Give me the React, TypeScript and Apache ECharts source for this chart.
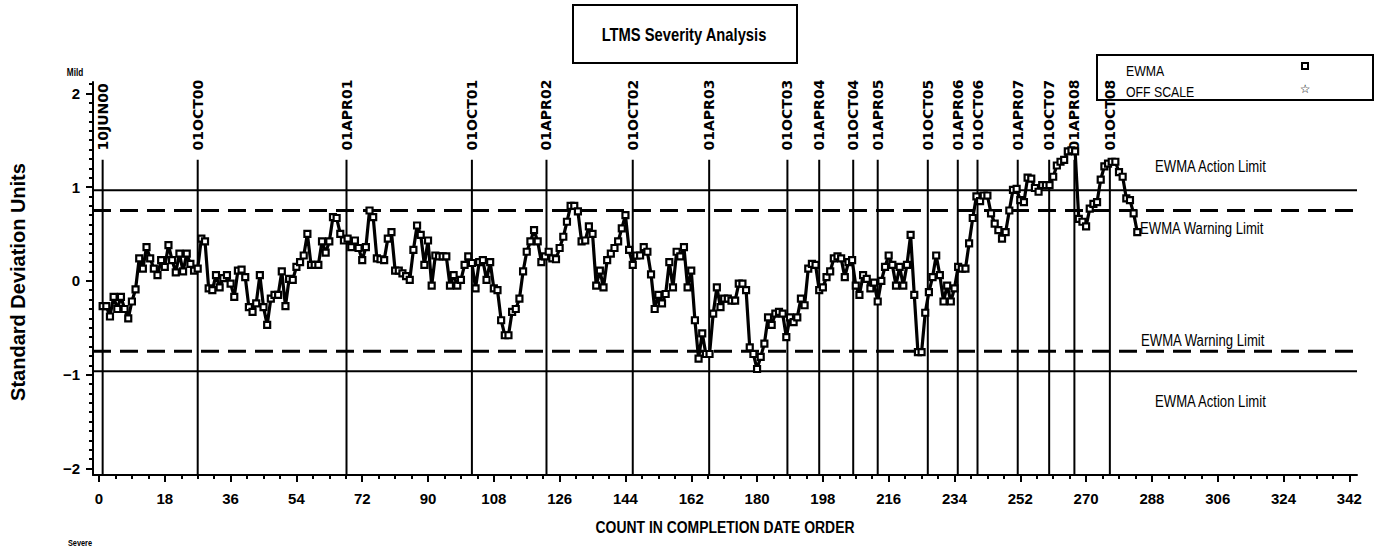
import React, { useEffect, useRef } from "react";
import * as echarts from "echarts";

// ---------------- data ----------------
const START_COUNT = 1;
const EWMA: number[] = [
  -0.27, -0.27, -0.38, -0.17, -0.30, -0.17, -0.30, -0.40, -0.22, -0.09,
  0.24, 0.13, 0.36, 0.24, 0.13, 0.06, 0.22, 0.15, 0.38, 0.22,
  0.09, 0.29, 0.10, 0.29, 0.18, 0.11, 0.13, 0.45, 0.42, -0.08,
  -0.10, 0.06, -0.07, 0.03, 0.06, -0.03, -0.17, 0.11, 0.12, 0.04,
  -0.28, -0.33, -0.24, 0.06, -0.28, -0.47, -0.19, -0.15, -0.15, 0.10,
  -0.27, 0.02, 0.01, 0.15, 0.20, 0.27, 0.50, 0.17, 0.17, 0.17,
  0.42, 0.30, 0.42, 0.68, 0.67, 0.50, 0.43, 0.45, 0.36, 0.43,
  0.35, 0.22, 0.36, 0.75, 0.68, 0.24, 0.23, 0.22, 0.45, 0.52,
  0.11, 0.11, 0.08, 0.05, 0.01, 0.33, 0.59, 0.49, 0.17, 0.43,
  -0.05, 0.27, 0.26, 0.26, 0.26, -0.05, 0.06, -0.05, 0.01, 0.17,
  0.26, 0.19, -0.08, 0.20, 0.22, 0.01, 0.20, -0.08, -0.10, -0.42,
  -0.58, -0.58, -0.33, -0.30, -0.19, 0.10, 0.31, 0.42, 0.54, 0.42,
  0.20, 0.26, 0.31, 0.24, 0.23, 0.35, 0.47, 0.63, 0.80, 0.80,
  0.74, 0.42, 0.43, 0.58, 0.50, -0.05, 0.11, -0.07, 0.22, 0.29,
  0.35, 0.42, 0.56, 0.70, 0.33, 0.17, 0.27, 0.27, 0.36, 0.31,
  0.07, -0.30, -0.15, -0.24, -0.14, 0.20, -0.07, 0.31, 0.26, 0.36,
  -0.07, 0.11, -0.42, -0.83, -0.56, -0.78, -0.78, -0.35, -0.07, -0.28,
  -0.19, -0.19, -0.21, -0.21, -0.03, -0.03, -0.10, -0.71, -0.78, -0.94,
  -0.81, -0.67, -0.39, -0.47, -0.35, -0.33, -0.35, -0.60, -0.39, -0.44,
  -0.39, -0.19, -0.26, 0.13, 0.18, 0.17, -0.10, -0.07, 0.04, 0.10,
  0.24, 0.26, 0.24, 0.04, 0.20, 0.22, -0.05, -0.15, 0.06, 0.02,
  -0.08, -0.02, -0.22, 0.00, 0.15, 0.27, 0.17, -0.05, 0.15, -0.05,
  0.17, 0.49, -0.15, -0.76, -0.76, -0.34, -0.12, 0.04, 0.27, 0.06,
  -0.22, -0.05, -0.22, -0.08, 0.15, 0.13, 0.13, 0.40, 0.67, 0.90,
  0.85, 0.91, 0.91, 0.72, 0.61, 0.54, 0.45, 0.52, 0.75, 0.97,
  0.98, 0.86, 0.84, 1.10, 1.09, 0.99, 0.95, 1.02, 1.02, 1.02,
  1.11, 1.23, 1.27, 1.29, 1.38, 1.39, 1.38, 0.66, 0.63, 0.58,
  0.77, 0.82, 0.84, 1.08, 1.22, 1.25, 1.27, 1.27, 1.16, 1.11,
  0.88, 0.86, 0.72, 0.52,
];

const DATE_LABELS = [
  "10JUN00", "01OCT00", "01APR01", "01OCT01", "01APR02", "01OCT02",
  "01APR03", "01OCT03", "01APR04", "01OCT04", "01APR05", "01OCT05",
  "01APR06", "01OCT06", "01APR07", "01OCT07", "01APR08", "01OCT08",
];
const DATE_COUNTS = [
  1, 27, 67.7, 102, 122.4, 146, 166.9, 188.3, 197, 206.3, 213, 226.7,
  234.9, 240.3, 251.3, 259.9, 266.8, 276.5,
];

const ACTION_LIMIT = 0.965;
const WARNING_LIMIT = 0.75;

const X_TICKS = [0, 18, 36, 54, 72, 90, 108, 126, 144, 162, 180, 198, 216, 234, 252, 270, 288, 306, 324, 342];
const Y_TICKS = [-2, -1, 0, 1, 2];

// ---------------- layout ----------------
const X_MIN = -1.64;
const X_MAX = 344.1;
const Y_MIN = -2.07;
const Y_MAX = 2.12;
const DATE_LINE_TOP = 1.29;
const DATE_LABEL_BASE = 1.39;

const SANS = '"Liberation Sans", Arial, sans-serif';
const DEJAVU = '"DejaVu Sans", sans-serif';
const NARROW_SCALE = 0.82;

const xMinor: number[] = [];
for (let k = 0; k <= 342 / 4.5; k++) {
  if (k % 4 !== 0) xMinor.push(k * 4.5);
}
const yMinor: number[] = [];
for (let k = -20; k <= 21; k++) {
  if (k % 10 !== 0) yMinor.push(k / 10);
}

const minusFmt = (v: number) => (v < 0 ? "\u2212" + Math.abs(v) : String(v));

function narrowText(
  text: string,
  x: number,
  y: number,
  font: string,
  align: "left" | "center" = "left"
) {
  return {
    type: "text",
    x,
    y,
    scaleX: NARROW_SCALE,
    style: { text, fill: "#000", font, textAlign: align, textVerticalAlign: "middle" },
  };
}

export default function App() {
  const ref = useRef<HTMLDivElement>(null);

  useEffect(() => {
    if (!ref.current) return;
    const chart = echarts.init(ref.current, null, { renderer: "svg" });

    const axisLineStyle = { color: "#000", width: 2 };
    const tickLabel = {
      color: "#000",
      fontFamily: SANS,
      fontWeight: "bold" as const,
      fontSize: 15,
    };

    const limitSeries = [
      { v: ACTION_LIMIT, dash: "solid", w: 2 },
      { v: WARNING_LIMIT, dash: [18, 9], w: 3 },
      { v: -WARNING_LIMIT, dash: [18, 9], w: 3 },
      { v: -ACTION_LIMIT, dash: "solid", w: 2 },
    ].map((l) => ({
      type: "line",
      xAxisIndex: 0,
      yAxisIndex: 0,
      silent: true,
      symbol: "none",
      z: 1,
      data: [
        [X_MIN, l.v],
        [X_MAX, l.v],
      ],
      lineStyle: { color: "#000", width: l.w, type: l.dash },
    }));

    const option: any = {
      animation: false,
      backgroundColor: "#fff",
      grid: { left: 93, right: 23, top: 82, bottom: 73, containLabel: false },
      xAxis: [
        {
          type: "value",
          min: X_MIN,
          max: X_MAX,
          position: "bottom",
          axisLine: { show: true, onZero: false, lineStyle: axisLineStyle },
          axisTick: { show: true, customValues: X_TICKS, length: 7, lineStyle: axisLineStyle },
          axisLabel: { show: true, customValues: X_TICKS, margin: 16, ...tickLabel, formatter: (v: number) => String(v) },
          splitLine: { show: false },
        },
        {
          type: "value",
          min: X_MIN,
          max: X_MAX,
          position: "bottom",
          axisLine: { show: false, onZero: false },
          axisTick: { show: true, customValues: xMinor, length: 4, lineStyle: axisLineStyle },
          axisLabel: { show: false },
          splitLine: { show: false },
        },
      ],
      yAxis: [
        {
          type: "value",
          min: Y_MIN,
          max: Y_MAX,
          position: "left",
          axisLine: { show: true, onZero: false, lineStyle: axisLineStyle },
          axisTick: { show: true, customValues: Y_TICKS, length: 7, lineStyle: axisLineStyle },
          axisLabel: { show: true, customValues: Y_TICKS, margin: 13, ...tickLabel, formatter: minusFmt },
          splitLine: { show: false },
        },
        {
          type: "value",
          min: Y_MIN,
          max: Y_MAX,
          position: "left",
          axisLine: { show: false, onZero: false },
          axisTick: { show: true, customValues: yMinor, length: 4, lineStyle: axisLineStyle },
          axisLabel: { show: false },
          splitLine: { show: false },
        },
      ],
      series: [
        ...limitSeries,
        {
          type: "custom",
          xAxisIndex: 0,
          yAxisIndex: 0,
          silent: true,
          z: 2,
          data: DATE_COUNTS.map((c) => [c, 0]),
          renderItem: (params: any, api: any) => {
            const x = api.value(0);
            const p0 = api.coord([x, Y_MIN]);
            const p1 = api.coord([x, DATE_LINE_TOP]);
            const pt = api.coord([x, DATE_LABEL_BASE]);
            return {
              type: "group",
              children: [
                {
                  type: "line",
                  shape: { x1: p0[0], y1: p0[1], x2: p1[0], y2: p1[1] },
                  style: { stroke: "#000", lineWidth: 2 },
                },
                {
                  type: "text",
                  x: pt[0],
                  y: pt[1],
                  rotation: Math.PI / 2,
                  style: {
                    text: DATE_LABELS[params.dataIndex],
                    fill: "#000",
                    font: `bold 14px ${DEJAVU}`,
                    textAlign: "left",
                    textVerticalAlign: "middle",
                  },
                },
              ],
            };
          },
        },
        {
          type: "line",
          name: "EWMA",
          xAxisIndex: 0,
          yAxisIndex: 0,
          z: 3,
          data: EWMA.map((v, i) => [START_COUNT + i, v]),
          symbol: "rect",
          symbolSize: 6,
          showSymbol: true,
          showAllSymbol: true,
          lineStyle: { color: "#000", width: 3.2 },
          itemStyle: { color: "#fff", borderColor: "#000", borderWidth: 2.2 },
        },
      ],
      graphic: [
        {
          type: "rect",
          shape: { x: 573, y: 5, width: 224, height: 58 },
          style: { fill: "none", stroke: "#000", lineWidth: 2 },
        },
        narrowText("LTMS Severity Analysis", 684, 34, `bold 18px ${SANS}`, "center"),
        {
          type: "rect",
          shape: { x: 1097, y: 55, width: 276, height: 45 },
          style: { fill: "none", stroke: "#000", lineWidth: 2 },
        },
        narrowText("EWMA", 1126, 71, `15px ${SANS}`),
        narrowText("OFF SCALE", 1126, 92, `15px ${SANS}`),
        {
          type: "rect",
          shape: { x: 1302, y: 63, width: 6, height: 6 },
          style: { fill: "#fff", stroke: "#000", lineWidth: 2 },
        },
        {
          type: "text",
          x: 1305,
          y: 89,
          style: { text: "\u2606", fill: "#000", font: `12px ${DEJAVU}`, textAlign: "center", textVerticalAlign: "middle" },
        },
        {
          type: "text",
          x: 18,
          y: 282,
          rotation: Math.PI / 2,
          style: { text: "Standard Deviation Units", fill: "#000", font: `bold 20px ${SANS}`, textAlign: "center", textVerticalAlign: "middle" },
        },
        narrowText("COUNT IN COMPLETION DATE ORDER", 725, 527, `bold 17px ${SANS}`, "center"),
        narrowText("Mild", 75, 73, `bold 10px ${SANS}`, "center"),
        narrowText("Severe", 80, 543, `bold 9px ${SANS}`, "center"),
        narrowText("EWMA Action Limit", 1155, 167, `16px ${SANS}`),
        narrowText("EWMA Warning Limit", 1140, 229, `16px ${SANS}`),
        narrowText("EWMA Warning Limit", 1141, 341, `16px ${SANS}`),
        narrowText("EWMA Action Limit", 1155, 402, `16px ${SANS}`),
      ],
    };

    chart.setOption(option);
    return () => chart.dispose();
  }, []);

  return (
    <div
      ref={ref}
      style={{ position: "fixed", left: 0, top: 0, width: 1380, height: 548, background: "#fff" }}
    />
  );
}
